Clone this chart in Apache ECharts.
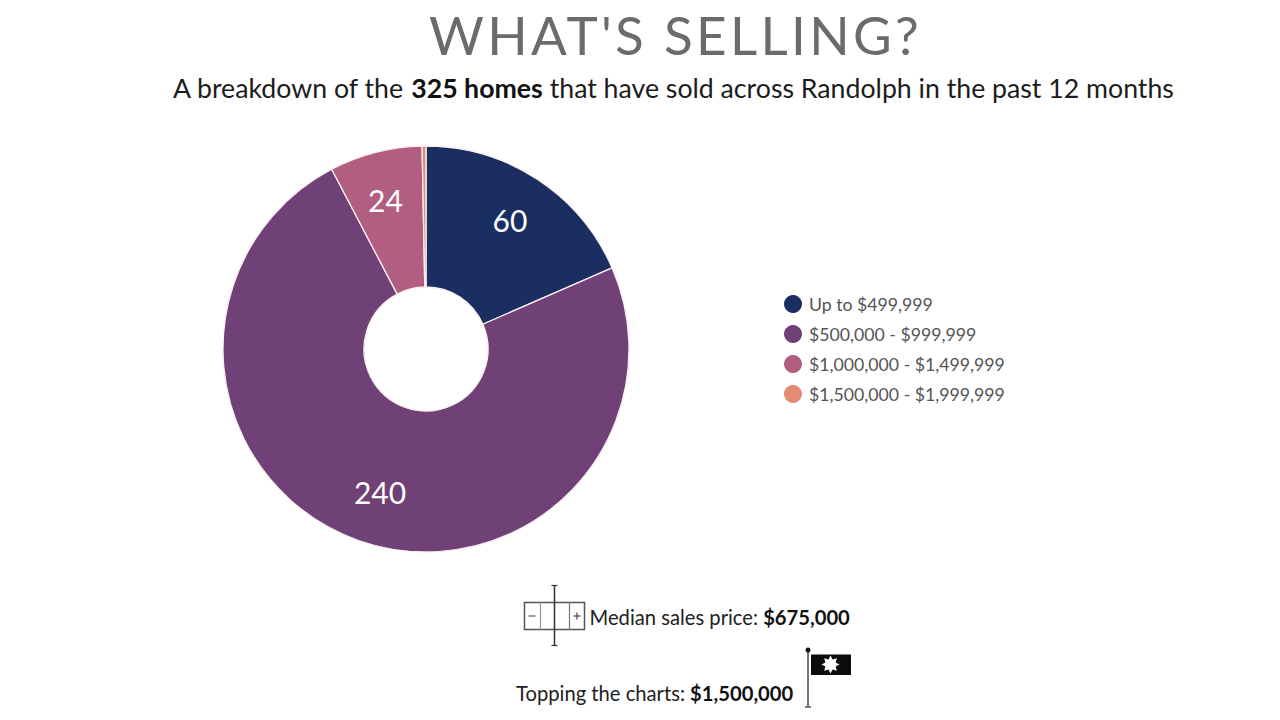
<!DOCTYPE html>
<html>
<head>
<meta charset="utf-8">
<style>
html,body{margin:0;background:#fff}
#chart{width:1280px;height:720px}
/* Tracked-out heading */
#chart text[style*="53px"]{letter-spacing:3.3px}
</style>
<script src="https://cdn.jsdelivr.net/npm/echarts@6/dist/echarts.min.js"></script>
</head>
<body>
<div id="chart"></div>
<script>
// Home sales by price band, Randolph, trailing 12 months
const categories = ['Up to $499,999', '$500,000 - $999,999', '$1,000,000 - $1,499,999', '$1,500,000 - $1,999,999'];
const homesSold = [60, 240, 24, 1];
const sliceColors = ['#1a2e62', '#704176', '#b25e80', '#e58a75'];
const labelledMinimum = 10;

const FONT = 'Lato';
const CX = 426, CY = 349, LABEL_PUSH = 17;

const chart = echarts.init(document.getElementById('chart'), null, { renderer: 'svg' });

// Eight-pointed burst for the flag emblem
function burstPoints(cx, cy, outer, inner, tips) {
  const pts = [];
  for (let i = 0; i < tips * 2; i++) {
    const r = i % 2 ? inner : outer;
    const a = Math.PI * i / tips - Math.PI / 2;
    pts.push([cx + r * Math.cos(a), cy + r * Math.sin(a)]);
  }
  return pts;
}

const ink = '#222';
const hair = { stroke: '#333', lineWidth: 1.2 };
const seg = (x1, y1, x2, y2, style) => ({
  type: 'line', shape: { x1, y1, x2, y2 }, style: Object.assign({}, hair, style), silent: true
});

const boxIcon = [
  { type: 'rect', shape: { x: 524.5, y: 602.5, width: 60, height: 27 }, style: { fill: 'none', stroke: '#555', lineWidth: 1.5 } },
  seg(540.5, 602.5, 540.5, 629.5, { stroke: '#999' }),
  seg(569.5, 602.5, 569.5, 629.5, { stroke: '#777' }),
  seg(554.5, 585, 554.5, 646, { stroke: '#333', lineWidth: 1.5 }),
  seg(551.5, 585.5, 557.5, 585.5),
  seg(551.5, 645.5, 557.5, 645.5),
  seg(528.5, 616, 535.5, 616, { stroke: '#555' }),
  seg(573.5, 616, 580.5, 616, { stroke: '#444' }),
  seg(577, 612.5, 577, 619.5, { stroke: '#444' })
];

const flagIcon = [
  seg(808, 650, 808, 707, { stroke: '#555', lineWidth: 1.6 }),
  seg(805, 707, 811, 707),
  { type: 'circle', shape: { cx: 808, cy: 650, r: 2.5 }, style: { fill: '#111' } },
  { type: 'rect', shape: { x: 811, y: 654.5, width: 40, height: 20.5 }, style: { fill: '#0b0b0b' } },
  { type: 'polygon', shape: { points: burstPoints(830.5, 664.5, 9, 5.5, 8) }, style: { fill: '#fff' } }
];

const footText = (x, y, plain, bold) => ({
  type: 'text', x, y,
  style: {
    text: '{a|' + plain + '}{b|' + bold + '}',
    verticalAlign: 'middle',
    rich: {
      a: { fontFamily: FONT, fontSize: 20.2, fill: ink, color: ink },
      b: { fontFamily: FONT, fontSize: 20.2, fontWeight: 'bold', fill: '#111', color: '#111' }
    }
  }
});

chart.setOption({
  backgroundColor: '#fff',
  animation: false,
  title: [
    {
      text: "WHAT'S SELLING?", left: 424, top: 2.5,
      textStyle: { fontFamily: FONT, fontSize: 53, fontWeight: 'normal', color: '#6b6b6b' }
    },
    {
      text: '{a|A breakdown of the }{b|325 homes}{a| that have sold across Randolph in the past 12 months}',
      left: 168, top: 69,
      textStyle: {
        fontFamily: FONT, fontWeight: 'normal',
        rich: {
          a: { fontFamily: FONT, fontSize: 26.7, fontWeight: 'normal', color: '#1c1c1c' },
          b: { fontFamily: FONT, fontSize: 26.7, fontWeight: 'bold', color: '#111' }
        }
      }
    }
  ],
  legend: {
    orient: 'vertical', left: 784, top: 295, padding: 0,
    icon: 'circle', itemWidth: 18, itemHeight: 18, itemGap: 12,
    itemStyle: { borderWidth: 0 },
    data: categories,
    textStyle: { fontFamily: FONT, fontSize: 17.7, color: '#555', padding: [0, 0, 0, 2] }
  },
  series: [{
    type: 'pie',
    center: [CX, CY],
    radius: [62, 203],
    startAngle: 90,
    clockwise: true,
    silent: true,
    itemStyle: { borderColor: '#fbeef0', borderWidth: 1.3 },
    label: {
      position: 'inside', fontFamily: FONT, fontSize: 30, color: '#fff', formatter: '{c}'
    },
    labelLine: { show: false },
    // Push the value labels outward from the middle of the ring
    labelLayout: p => {
      const mx = p.rect.x + p.rect.width / 2 - CX;
      const my = p.rect.y + p.rect.height / 2 - CY;
      const d = Math.hypot(mx, my) || 1;
      return { dx: mx / d * LABEL_PUSH - 1, dy: my / d * LABEL_PUSH - 2 };
    },
    data: categories.map((name, i) => ({
      name,
      value: homesSold[i],
      itemStyle: { color: sliceColors[i] },
      label: { show: homesSold[i] >= labelledMinimum }
    }))
  }],
  graphic: [
    ...boxIcon,
    ...flagIcon,
    footText(589.5, 616.5, 'Median sales price: ', '$675,000'),
    footText(516, 692.5, 'Topping the charts: ', '$1,500,000')
  ]
});
</script>
</body>
</html>
